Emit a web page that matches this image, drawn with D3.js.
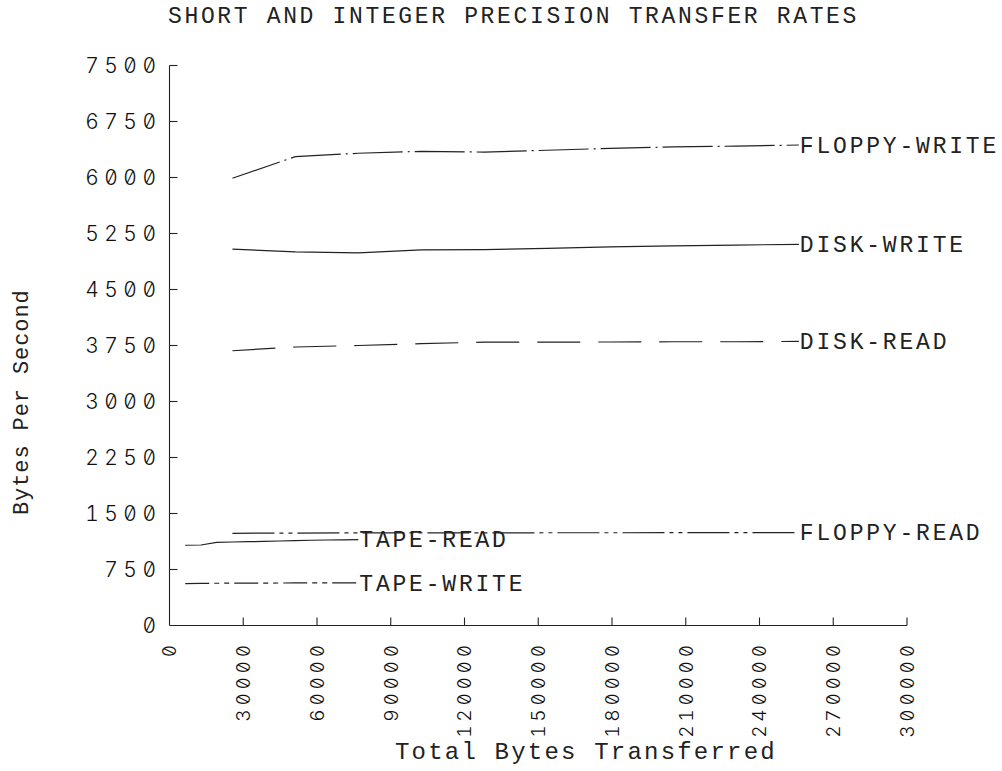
<!DOCTYPE html>
<html>
<head>
<meta charset="utf-8">
<script src="https://cdn.jsdelivr.net/npm/d3@7/dist/d3.min.js"></script>
<style>
  html, body { margin: 0; padding: 0; background: #fff; }
  svg { display: block; }
  text { font-family: "Liberation Mono", "DejaVu Sans Mono", monospace; fill: #222; }
  text.num { font-family: Inter, "Liberation Mono", monospace; font-weight: 300;
             font-feature-settings: "zero" 1, "tnum" 1; fill: #111; }
</style>
</head>
<body>
<svg id="chart" width="1002" height="771"></svg>
<script>
// Sample sizes (bytes transferred) for the disk / floppy runs and the tape runs
const blockBytes = [25600, 51200, 76800, 102400, 128000, 153600, 179200, 204800, 230400, 256000];
const tapeBytes  = [6400, 12800, 19200, 25600, 32000, 38400, 44800, 51200, 57600, 64000, 70400, 76800];

// Measured rates, bytes per second
const floppyWrite = [5990, 6280, 6325, 6350, 6340, 6365, 6390, 6410, 6420, 6435];
const diskWrite   = [5040, 5005, 4990, 5030, 5035, 5050, 5070, 5085, 5095, 5105];
const diskRead    = [3680, 3730, 3750, 3775, 3795, 3795, 3797, 3800, 3800, 3805];
const floppyRead  = [1235, 1238, 1240, 1240, 1240, 1242, 1242, 1243, 1243, 1245];
const tapeRead    = [1075, 1078, 1112, 1118, 1122, 1126, 1132, 1138, 1142, 1145, 1148, 1150];
const tapeWrite   = [562, 564, 566, 567, 568, 568, 569, 570, 570, 571, 572, 572];

const seriesNames = ["FLOPPY-WRITE", "DISK-WRITE", "DISK-READ", "FLOPPY-READ", "TAPE-READ", "TAPE-WRITE"];

// Axis ticks
const xTicks = [0, 30000, 60000, 90000, 120000, 150000, 180000, 210000, 240000, 270000, 300000];
const yTicks = [0, 750, 1500, 2250, 3000, 3750, 4500, 5250, 6000, 6750, 7500];

const titleText = "SHORT AND INTEGER PRECISION TRANSFER RATES";
const xTitle = "Total Bytes Transferred";
const yTitle = "Bytes Per Second";

const svg = d3.select("#chart");
const ink = "#222";

const x = d3.scaleLinear().domain([0, 300000]).range([169.5, 907]);
const y = d3.scaleLinear().domain([0, 7500]).range([625.5, 65.5]);

// Plotter style line patterns, one per series
const series = [
  { name: seriesNames[0], xs: blockBytes, ys: floppyWrite, dash: "50 5 2 5" },
  { name: seriesNames[1], xs: blockBytes, ys: diskWrite,   dash: null },
  { name: seriesNames[2], xs: blockBytes, ys: diskRead,    dash: "43 18" },
  { name: seriesNames[3], xs: blockBytes, ys: floppyRead,  dash: "42 5 4 5 4 5" },
  { name: seriesNames[4], xs: tapeBytes,  ys: tapeRead,    dash: null },
  { name: seriesNames[5], xs: tapeBytes,  ys: tapeWrite,   dash: "24 5 5 5 5 5" }
];

// Axes
const axisG = svg.append("g").attr("stroke", ink).attr("stroke-width", 1.1).attr("fill", "none");
axisG.append("line").attr("x1", x(0)).attr("x2", x(300000)).attr("y1", y(0)).attr("y2", y(0));
axisG.append("line").attr("x1", x(0)).attr("x2", x(0)).attr("y1", y(0)).attr("y2", y(7500));
axisG.selectAll(".xt").data(xTicks.slice(1)).join("line")
  .attr("x1", d => x(d)).attr("x2", d => x(d))
  .attr("y1", y(0)).attr("y2", y(0) - 8);
axisG.selectAll(".yt").data(yTicks.slice(1)).join("line")
  .attr("x1", x(0)).attr("x2", x(0) + 8)
  .attr("y1", d => y(d)).attr("y2", d => y(d));

// Y tick labels, right aligned
const yLabelSize = 21, yLabelSpacing = 5.5;
svg.append("g").selectAll("text").data(yTicks).join("text")
  .attr("class", "num")
  .attr("x", 156 + yLabelSpacing)
  .attr("y", d => y(d))
  .attr("dy", "0.36em")
  .attr("text-anchor", "end")
  .style("font-size", yLabelSize + "px")
  .style("letter-spacing", yLabelSpacing + "px")
  .text(d => String(d));

// X tick labels, rotated to read upward
const xLabelSize = 19, xLabelSpacing = 3.8;
svg.append("g").selectAll("text").data(xTicks).join("text")
  .attr("class", "num")
  .attr("transform", d => `translate(${x(d)},${645 - xLabelSpacing}) rotate(-90)`)
  .attr("text-anchor", "end")
  .attr("dy", "0.36em")
  .style("font-size", xLabelSize + "px")
  .style("letter-spacing", xLabelSpacing + "px")
  .text(d => String(d));

// Title and axis titles
svg.append("text")
  .attr("x", 168).attr("y", 23)
  .style("font-size", "23px")
  .style("letter-spacing", "2.65px")
  .text(titleText);

svg.append("text")
  .attr("x", 395).attr("y", 759)
  .style("font-size", "24px")
  .style("letter-spacing", "2.2px")
  .text(xTitle);

svg.append("text")
  .attr("transform", "translate(28,515) rotate(-90)")
  .style("font-size", "22px")
  .style("letter-spacing", "0.9px")
  .text(yTitle);

// Series lines
const line = d3.line().x(d => x(d[0])).y(d => y(d[1]));
const lineG = svg.append("g").attr("fill", "none").attr("stroke", ink).attr("stroke-width", 1.2);
series.forEach(s => {
  const pts = s.xs.map((v, i) => [v, s.ys[i]]);
  const p = lineG.append("path").attr("d", line(pts));
  if (s.dash) p.attr("stroke-dasharray", s.dash);
});

// End-of-line labels
svg.append("g").selectAll("text").data(series).join("text")
  .attr("x", s => x(s.xs[s.xs.length - 1]) + 1)
  .attr("y", s => y(s.ys[s.ys.length - 1]))
  .attr("dy", "0.34em")
  .style("font-size", "23px")
  .style("letter-spacing", "2.8px")
  .text(s => s.name);
</script>
</body>
</html>
